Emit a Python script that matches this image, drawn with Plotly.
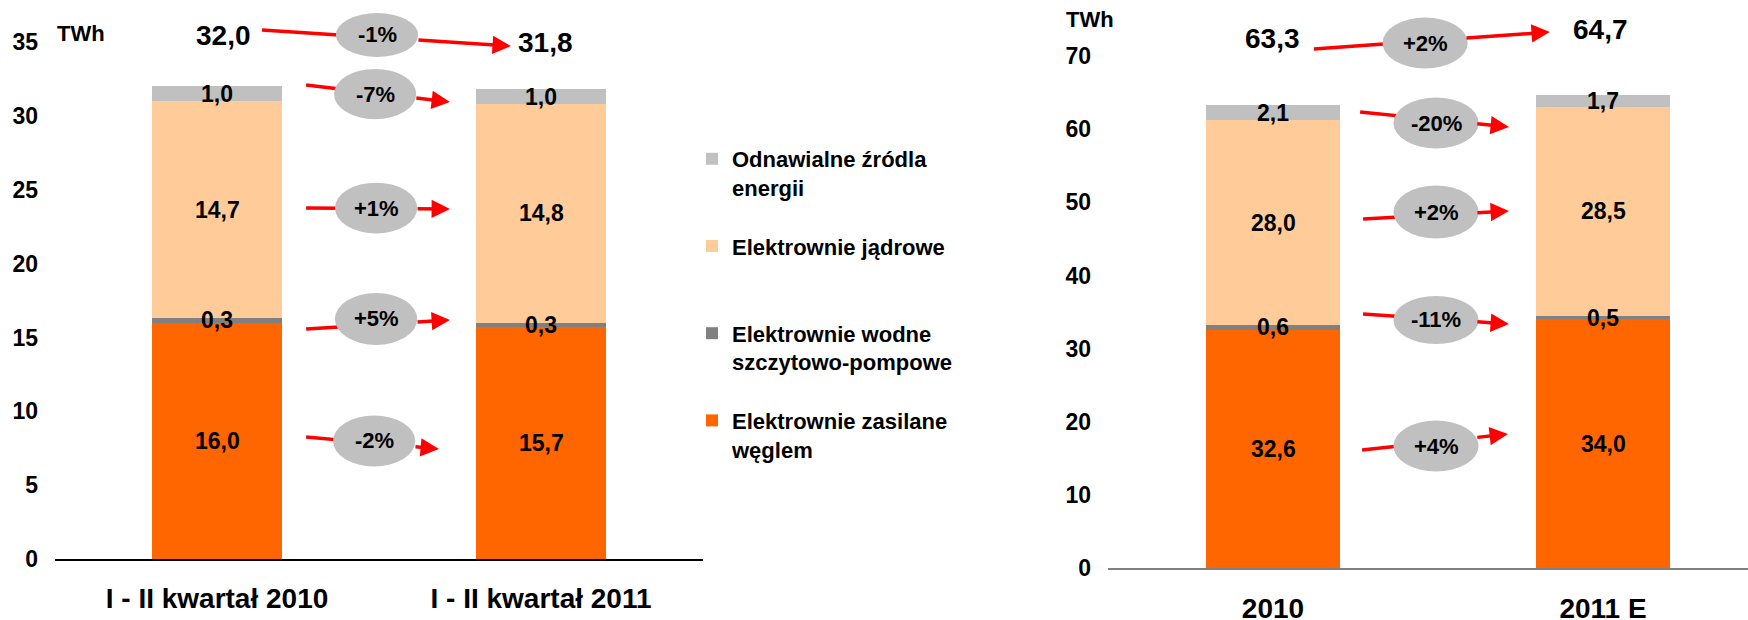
import plotly.graph_objects as go

# ---------------- data ----------------
series_names = ["Elektrownie zasilane<br>węglem",
                "Elektrownie wodne<br>szczytowo-pompowe",
                "Elektrownie jądrowe<br> ",
                "Odnawialne źródla<br>energii"]
series_colors = ["#FF6600", "#808080", "#FFCC99", "#C0C0C0"]
legend_ranks = [4, 3, 2, 1]

cats_left = ["I - II kwartał 2010", "I - II kwartał 2011"]
coal_left = [16.0, 15.7]
pump_left = [0.3, 0.3]
nuclear_left = [14.7, 14.8]
renew_left = [1.0, 1.0]
# changes: coal, pump, nuclear, renewables, total
change_left = ["-2%", "+5%", "+1%", "-7%", "-1%"]

cats_right = ["2010", "2011 E"]
coal_right = [32.6, 34.0]
pump_right = [0.6, 0.5]
nuclear_right = [28.0, 28.5]
renew_right = [2.1, 1.7]
change_right = ["+4%", "-11%", "+2%", "-20%", "+2%"]

ticks_left = [0, 5, 10, 15, 20, 25, 30, 35]
ticks_right = [0, 10, 20, 30, 40, 50, 60, 70]
unit_label = "TWh"

# ---------------- layout constants (decoration geometry) ----------------
FONT = "Arial, 'Liberation Sans', Helvetica, sans-serif"
# arrow geometry per chart: (start_x, start_y, tip_x, tip_y, ellipse_x, ellipse_y, ellipse_half_h)
arrows_left = [
    (0.275, 8.26, 0.685, 7.45, 0.485, 7.99, 1.72),
    (0.275, 15.57, 0.719, 16.18, 0.491, 16.25, 1.76),
    (0.275, 23.76, 0.719, 23.70, 0.491, 23.76, 1.72),
    (0.275, 32.09, 0.719, 30.94, 0.488, 31.48, 1.70),
    (0.139, 35.82, 0.907, 34.73, 0.494, 35.48, 1.49),
]
arrows_right = [
    (0.270, 16.13, 0.712, 18.32, 0.494, 16.68, 3.49),
    (0.273, 34.73, 0.715, 33.36, 0.494, 33.91, 3.28),
    (0.273, 47.72, 0.715, 48.81, 0.494, 48.67, 3.62),
    (0.264, 62.35, 0.715, 60.30, 0.494, 60.84, 3.49),
    (0.124, 70.96, 0.839, 73.28, 0.461, 71.78, 3.49),
]
ell_hw_left = 0.127
ell_hw_right = 0.129


def fmt(v):
    return f"{v:.1f}".replace(".", ",")


fig = go.Figure()

left_series = [coal_left, pump_left, nuclear_left, renew_left]
right_series = [coal_right, pump_right, nuclear_right, renew_right]

for i, (vals, name, col) in enumerate(zip(left_series, series_names, series_colors)):
    fig.add_trace(go.Bar(x=cats_left, y=vals, name=name, marker_color=col,
                         marker_line_width=0, width=0.4, xaxis="x", yaxis="y",
                         legendgroup=f"g{i}", legendrank=legend_ranks[i],
                         showlegend=True, hoverinfo="skip"))
for i, (vals, name, col) in enumerate(zip(right_series, series_names, series_colors)):
    fig.add_trace(go.Bar(x=cats_right, y=vals, name=name, marker_color=col,
                         marker_line_width=0, width=0.405, xaxis="x2", yaxis="y2",
                         legendgroup=f"g{i}", legendrank=legend_ranks[i],
                         showlegend=False, hoverinfo="skip"))

annotations = []
shapes = []


def segment_labels(series, xr, yr):
    n = len(series[0])
    for j in range(n):
        base = 0.0
        for s in series:
            v = s[j]
            annotations.append(dict(x=j, y=base + v / 2, xref=xr, yref=yr,
                                    text=f"<b>{fmt(v)}</b>", showarrow=False,
                                    font=dict(size=23, color="black", family=FONT)))
            base += v


segment_labels(left_series, "x", "y")
segment_labels(right_series, "x2", "y2")


def change_marks(arrows, labels, hw, xr, yr):
    for (sx, sy, tx, ty, ex, ey, hh), lab in zip(arrows, labels):
        # point on the arrow line below the ellipse centre
        my = sy + (ty - sy) * (ex - sx) / (tx - sx)
        shapes.append(dict(type="line", xref=xr, yref=yr, x0=sx, y0=sy, x1=ex, y1=my,
                           line=dict(color="#FF0000", width=3.5), layer="above"))
        shapes.append(dict(type="circle", xref=xr, yref=yr, x0=ex - hw, x1=ex + hw,
                           y0=ey - hh, y1=ey + hh, fillcolor="#C0C0C0",
                           line=dict(width=0), layer="above"))
        annotations.append(dict(x=tx, y=ty, ax=ex, ay=my, xref=xr, yref=yr,
                                axref=xr, ayref=yr, text="", showarrow=True,
                                arrowhead=2, arrowsize=1.05, arrowwidth=3.5,
                                arrowcolor="#FF0000", startstandoff=40))
        annotations.append(dict(x=ex, y=ey, xref=xr, yref=yr, text=f"<b>{lab}</b>",
                                showarrow=False,
                                font=dict(size=22, color="black", family=FONT)))


change_marks(arrows_left, change_left, ell_hw_left, "x", "y")
change_marks(arrows_right, change_right, ell_hw_right, "x2", "y2")

# totals
tot_left = [sum(s[j] for s in left_series) for j in range(2)]
tot_right = [sum(s[j] for s in right_series) for j in range(2)]
tot_pos_left = [(6, 35.41), (4, 34.94)]
tot_pos_right = [(-1, 72.33), (-3, 73.69)]
for j in range(2):
    annotations.append(dict(x=j, y=tot_pos_left[j][1], xshift=tot_pos_left[j][0],
                            xref="x", yref="y", text=f"<b>{fmt(tot_left[j])}</b>",
                            showarrow=False, font=dict(size=28, color="black", family=FONT)))
    annotations.append(dict(x=j, y=tot_pos_right[j][1], xshift=tot_pos_right[j][0],
                            xref="x2", yref="y2", text=f"<b>{fmt(tot_right[j])}</b>",
                            showarrow=False, font=dict(size=28, color="black", family=FONT)))

W, H = 1748, 620

# unit labels
annotations.append(dict(x=-0.42, y=35.55, xref="x", yref="y", text=f"<b>{unit_label}</b>",
                        showarrow=False, font=dict(size=22, color="black", family=FONT)))
annotations.append(dict(x=1090 / W, y=1 - 20 / H, xref="paper", yref="paper",
                        xanchor="center", yanchor="middle",
                        text=f"<b>{unit_label}</b>",
                        showarrow=False, font=dict(size=22, color="black", family=FONT)))

tickfont_y = dict(size=23, color="black", family=FONT, weight="bold")
tickfont_x = dict(size=28, color="black", family=FONT, weight="bold")

fig.update_layout(
    width=W, height=H,
    margin=dict(l=0, r=0, t=0, b=0, pad=0, autoexpand=False),
    paper_bgcolor="white", plot_bgcolor="rgba(0,0,0,0)",
    barmode="stack",
    showlegend=True,
    legend=dict(x=692 / W, y=1 - 138 / H, xanchor="left", yanchor="top",
                traceorder="grouped", tracegroupgap=27, valign="top",
                font=dict(size=22, color="black", family=FONT, weight="bold"),
                bgcolor="rgba(0,0,0,0)"),
    xaxis=dict(domain=[55 / W, 703 / W], range=[-0.5, 1.5], anchor="y",
               showline=True, linecolor="black", linewidth=1.5, ticks="",
               tickfont=tickfont_x, ticklabelstandoff=14, automargin=False,
               showgrid=False, zeroline=False),
    yaxis=dict(domain=[1 - 559 / H, 1], range=[0, 559 / 14.77], anchor="x",
               tickvals=ticks_left, ticktext=[str(t) for t in ticks_left],
               tickfont=tickfont_y, ticks="", ticklabelstandoff=16, automargin=False,
               showline=False, showgrid=False, zeroline=False),
    xaxis2=dict(domain=[1108 / W, 1], range=[-0.5, -0.5 + 640 / 330], anchor="y2",
                showline=True, linecolor="#808080", linewidth=2, ticks="",
                tickfont=tickfont_x, ticklabelstandoff=14, automargin=False,
                showgrid=False, zeroline=False),
    yaxis2=dict(domain=[1 - 568 / H, 1], range=[0, 568 / 7.314], anchor="x2",
                tickvals=ticks_right, ticktext=[str(t) for t in ticks_right],
                tickfont=tickfont_y, ticks="", ticklabelstandoff=16, automargin=False,
                showline=False, showgrid=False, zeroline=False),
    annotations=annotations,
    shapes=shapes,
)

fig.write_html("out.html", config={"displayModeBar": False},
               post_script="document.body.style.margin='0';document.body.style.overflow='hidden';")
